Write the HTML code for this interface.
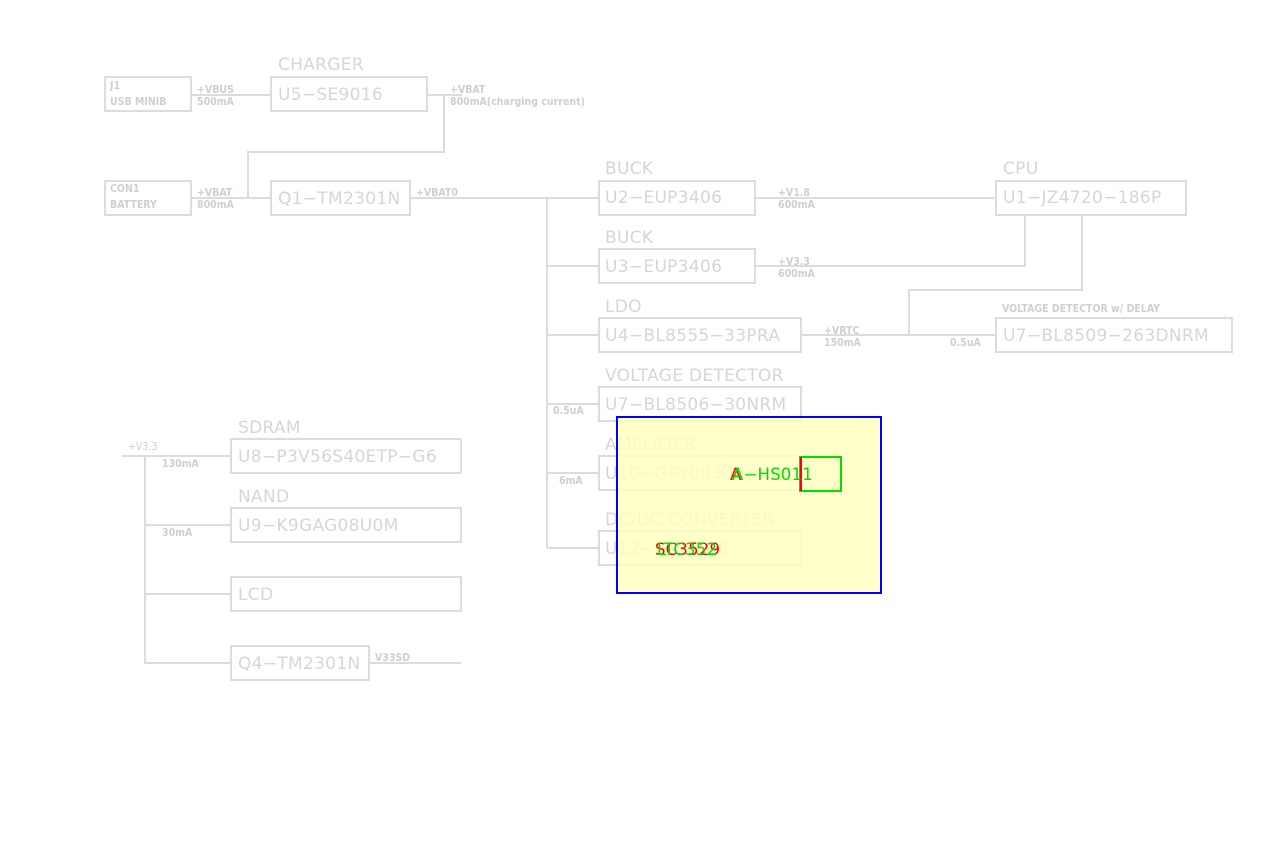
<!DOCTYPE html>
<html><head><meta charset="utf-8"><style>
html,body{margin:0;padding:0;background:#fff;}
svg{display:block}
.b{fill:none;stroke:#dcdcdc;stroke-width:2}
.l{stroke:#dcdcdc;stroke-width:2;fill:none}
.t{font-family:"DejaVu Sans",sans-serif;font-size:17px;fill:#d6d6d6;letter-spacing:0.3px}
.s{font-family:"DejaVu Sans Condensed","DejaVu Sans",sans-serif;font-size:10.5px;font-weight:bold;fill:#cfcfcf}
.o{font-family:"DejaVu Sans",sans-serif;font-size:16.5px;letter-spacing:0.2px}
</style></head><body>
<svg width="1280" height="850" viewBox="0 0 1280 850" xmlns="http://www.w3.org/2000/svg">
<rect class="b" x="105" y="77" width="86" height="34"/>
<text class="s" x="110" y="89">J1</text><text class="s" x="110" y="105">USB MINIB</text>
<path class="l" d="M191 95H271"/>
<text class="s" x="197" y="93">+VBUS</text><text class="s" x="197" y="105">500mA</text>
<rect class="b" x="271" y="77" width="156" height="34"/>
<text class="t" x="278" y="70">CHARGER</text><text class="t" x="278" y="100">U5−SE9016</text>
<path class="l" d="M427 95H462M444 95V152H248V198"/>
<text class="s" x="450" y="93">+VBAT</text><text class="s" x="450" y="105">800mA(charging current)</text>
<rect class="b" x="105" y="181" width="86" height="34"/>
<text class="s" x="110" y="192">CON1</text><text class="s" x="110" y="208">BATTERY</text>
<path class="l" d="M191 198H271"/>
<text class="s" x="197" y="196">+VBAT</text><text class="s" x="197" y="208">800mA</text>
<rect class="b" x="271" y="181" width="139" height="34"/>
<text class="t" x="278" y="204">Q1−TM2301N</text>
<path class="l" d="M410 198H599M547 198V548M547 266H599M547 335H599M547 404H599M547 473H599M547 548H599"/>
<text class="s" x="416" y="196">+VBAT0</text>
<text class="s" x="553" y="414">0.5uA</text>
<text class="s" x="559" y="484">6mA</text>
<rect class="b" x="599" y="181" width="156" height="34"/>
<text class="t" x="605" y="174">BUCK</text><text class="t" x="605" y="203">U2−EUP3406</text>
<path class="l" d="M755 198H996"/>
<text class="s" x="778" y="196">+V1.8</text><text class="s" x="778" y="208">600mA</text>
<rect class="b" x="996" y="181" width="190" height="34"/>
<text class="t" x="1003" y="174">CPU</text><text class="t" x="1003" y="203">U1−JZ4720−186P</text>
<rect class="b" x="599" y="249" width="156" height="34"/>
<text class="t" x="605" y="243">BUCK</text><text class="t" x="605" y="272">U3−EUP3406</text>
<path class="l" d="M755 266H1025V215"/>
<text class="s" x="778" y="265">+V3.3</text><text class="s" x="778" y="277">600mA</text>
<rect class="b" x="599" y="318" width="202" height="34"/>
<text class="t" x="605" y="312">LDO</text><text class="t" x="605" y="341">U4−BL8555−33PRA</text>
<path class="l" d="M801 335H996M909 335V290H1082V215"/>
<text class="s" x="824" y="334">+VRTC</text><text class="s" x="824" y="346">150mA</text>
<text class="s" x="950" y="346">0.5uA</text>
<rect class="b" x="996" y="318" width="236" height="34"/>
<text class="s" x="1002" y="312">VOLTAGE DETECTOR w/ DELAY</text>
<text class="t" x="1003" y="341">U7−BL8509−263DNRM</text>
<rect class="b" x="599" y="387" width="202" height="34"/>
<text class="t" x="605" y="381">VOLTAGE DETECTOR</text><text class="t" x="605" y="410">U7−BL8506−30NRM</text>
<rect class="b" x="599" y="456" width="202" height="34"/>
<text class="t" x="605" y="450">AMPLIFIER</text><text class="t" x="605" y="479">U10−GPY0030A</text>
<rect class="b" x="599" y="531" width="202" height="34"/>
<text class="t" x="605" y="525">DC/DC CONVERTER</text><text class="t" x="605" y="554">U12−LTC3526</text>
<path class="l" d="M122 456H231M145 456V663H231M145 525H231M145 594H231M369 663H461"/>
<text class="s" x="128" y="450" style="font-weight:normal">+V3.3</text>
<text class="s" x="162" y="467">130mA</text><text class="s" x="162" y="536">30mA</text>
<rect class="b" x="231" y="439" width="230" height="34"/>
<text class="t" x="238" y="433">SDRAM</text><text class="t" x="238" y="462">U8−P3V56S40ETP−G6</text>
<rect class="b" x="231" y="508" width="230" height="34"/>
<text class="t" x="238" y="502">NAND</text><text class="t" x="238" y="531">U9−K9GAG08U0M</text>
<rect class="b" x="231" y="577" width="230" height="34"/>
<text class="t" x="238" y="600">LCD</text>
<rect class="b" x="231" y="646" width="138" height="34"/>
<text class="t" x="238" y="669">Q4−TM2301N</text>
<text class="s" x="375" y="661">V33SD</text>
<rect x="617" y="417" width="264" height="176" fill="rgba(255,255,190,0.82)" stroke="#0000ff" stroke-width="2"/>
<rect x="800" y="457" width="41" height="34" fill="none" stroke="#00e000" stroke-width="2"/>
<path d="M801 457V491" stroke="#ff0000" stroke-width="2"/>
<text class="o" x="730" y="480" fill="#ff0000">A</text>
<text class="o" x="732" y="480" fill="#00dd00">A−HS011</text>
<text class="o" x="655" y="555" fill="#ff0000">SC3529</text>
<text class="o" x="657" y="555" fill="#00dd00">LTC352</text>
</svg>
</body></html>
